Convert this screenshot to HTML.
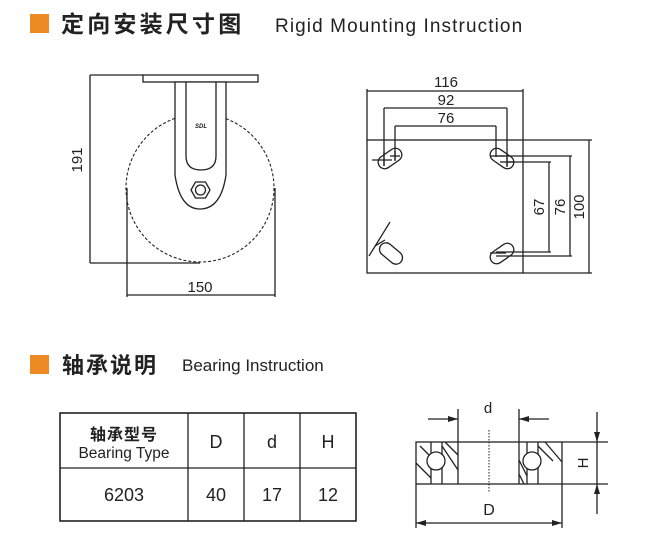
<!DOCTYPE html>
<html><head><meta charset="utf-8"><style>
html,body{margin:0;padding:0;background:#fff;}
svg{display:block}
text{font-family:"Liberation Sans","Noto Sans CJK SC",sans-serif;fill:#222}
</style></head><body>
<svg width="648" height="539" viewBox="0 0 648 539" xmlns="http://www.w3.org/2000/svg">
<defs>
<marker id="ar" viewBox="0 0 10 6" refX="10" refY="3" markerWidth="11" markerHeight="6" orient="auto" markerUnits="userSpaceOnUse"><path d="M0,0 L10,3 L0,6 z" fill="#222"/></marker>
</defs>
<!-- headers -->
<rect x="30" y="14" width="19" height="19" fill="#ee8a23"/>
<text x="61" y="32" font-size="23" letter-spacing="3.2" font-weight="bold">定向安装尺寸图</text>
<text x="275" y="32" font-size="19" letter-spacing="1.1">Rigid  Mounting  Instruction</text>
<rect x="30" y="355" width="19" height="19" fill="#ee8a23"/>
<text x="62" y="373" font-size="22" letter-spacing="2" font-weight="bold">轴承说明</text>
<text x="182" y="371" font-size="17">Bearing Instruction</text>

<g stroke="#222" stroke-width="1.3" fill="none">
<!-- caster side -->
<rect x="143" y="75" width="115" height="7"/>
<line x1="90" y1="75" x2="143" y2="75"/>
<line x1="90" y1="75" x2="90" y2="263"/>
<line x1="90" y1="263" x2="200" y2="263"/>
<circle cx="200" cy="188" r="74" stroke-dasharray="3,2" stroke-width="1.1"/>
<path d="M175,82 L175,175 Q180,209 200,209 Q221,209 226,175 L226,82 Z" fill="#fff"/>
<path d="M186,82 L186,156 Q186,170 201,170 Q216,170 216,156 L216,82"/>
<polygon points="191,190 195.5,182 205.5,182 210,190 205.5,198 195.5,198" fill="#fff"/>
<circle cx="200.5" cy="190" r="5"/>
<line x1="127" y1="188" x2="127" y2="297"/>
<line x1="275" y1="188" x2="275" y2="297"/>
<line x1="127" y1="295" x2="275" y2="295"/>
<!-- mounting plate -->
<rect x="367" y="140" width="156" height="133"/>
<line x1="367" y1="89" x2="367" y2="140"/>
<line x1="523" y1="89" x2="523" y2="140"/>
<line x1="367" y1="91" x2="523" y2="91"/>
<line x1="384" y1="108" x2="507" y2="108"/>
<line x1="384" y1="108" x2="384" y2="166"/>
<line x1="507" y1="108" x2="507" y2="166"/>
<line x1="395" y1="126" x2="496" y2="126"/>
<line x1="395" y1="126" x2="395" y2="160"/>
<line x1="496" y1="126" x2="496" y2="157"/>
<line x1="523" y1="140" x2="592" y2="140"/>
<line x1="523" y1="273" x2="592" y2="273"/>
<line x1="589" y1="140" x2="589" y2="273"/>
<line x1="496" y1="156" x2="572" y2="156"/>
<line x1="496" y1="256" x2="572" y2="256"/>
<line x1="570" y1="156" x2="570" y2="256"/>
<line x1="507" y1="162" x2="551" y2="162"/>
<line x1="496" y1="252" x2="551" y2="252"/>
<line x1="549" y1="162" x2="549" y2="252"/>
<rect x="377" y="152" width="26" height="13" rx="6.5" transform="rotate(-35 390 158.5)"/>
<rect x="489" y="152" width="26" height="13" rx="6.5" transform="rotate(35 502 158.5)"/>
<rect x="378" y="247" width="26" height="13" rx="6.5" transform="rotate(40 391 253.5)"/>
<rect x="489" y="247" width="26" height="13" rx="6.5" transform="rotate(-35 502 253.5)"/>
<line x1="372" y1="160" x2="392" y2="160"/><line x1="384" y1="152" x2="384" y2="166"/>
<line x1="390" y1="156" x2="400" y2="156"/><line x1="395" y1="151" x2="395" y2="161"/>
<line x1="491" y1="156" x2="505" y2="156"/>
<line x1="500" y1="162" x2="514" y2="162"/><line x1="507" y1="155" x2="507" y2="167"/>
<line x1="369" y1="256" x2="390" y2="222"/>
<line x1="375" y1="246" x2="385" y2="240"/>
<line x1="490" y1="253" x2="506" y2="253"/>
<!-- table -->
<rect x="60" y="413" width="296" height="108" stroke-width="1.6"/>
<line x1="60" y1="468" x2="356" y2="468"/>
<line x1="188" y1="413" x2="188" y2="521"/>
<line x1="244" y1="413" x2="244" y2="521"/>
<line x1="300" y1="413" x2="300" y2="521"/>
<!-- bearing -->
<rect x="416" y="442" width="146" height="42"/>
<line x1="458" y1="409" x2="458" y2="484"/>
<line x1="519" y1="409" x2="519" y2="484"/>
<line x1="416" y1="484" x2="416" y2="528"/>
<line x1="562" y1="484" x2="562" y2="528"/>
<line x1="428" y1="419" x2="458" y2="419" marker-end="url(#ar)"/>
<line x1="549" y1="419" x2="519" y2="419" marker-end="url(#ar)"/>
<line x1="489" y1="523" x2="416" y2="523" marker-end="url(#ar)"/>
<line x1="489" y1="523" x2="562" y2="523" marker-end="url(#ar)"/>
<line x1="562" y1="442" x2="608" y2="442"/>
<line x1="562" y1="484" x2="608" y2="484"/>
<line x1="597" y1="412" x2="597" y2="442" marker-end="url(#ar)"/>
<line x1="597" y1="514" x2="597" y2="484" marker-end="url(#ar)"/>
<line x1="597" y1="442" x2="597" y2="484"/>
<line x1="489" y1="430" x2="489" y2="492" stroke-dasharray="1.5,1.5" stroke-width="1"/>
<line x1="431" y1="442" x2="431" y2="484"/><line x1="442" y1="442" x2="442" y2="484"/>
<line x1="527" y1="442" x2="527" y2="484"/><line x1="538" y1="442" x2="538" y2="484"/>
<line x1="420" y1="446" x2="431" y2="457"/><line x1="416" y1="463" x2="431" y2="478"/>
<line x1="442" y1="446" x2="458" y2="470"/><line x1="445" y1="442" x2="458" y2="455"/>
<line x1="519" y1="460" x2="527" y2="476"/><line x1="519" y1="474" x2="524" y2="484"/>
<line x1="538" y1="446" x2="553" y2="461"/><line x1="545" y1="442" x2="562" y2="462"/>
<circle cx="436" cy="461" r="9" fill="#fff"/>
<circle cx="532" cy="461" r="9" fill="#fff"/>
</g>
<text x="195" y="128" font-size="6" font-style="italic" font-weight="bold">SDL</text>
<text x="82" y="160" font-size="15" text-anchor="middle" transform="rotate(-90 82 160)">191</text>
<text x="200" y="292" font-size="15" text-anchor="middle">150</text>
<text x="446" y="87" font-size="15" text-anchor="middle">116</text>
<text x="446" y="105" font-size="15" text-anchor="middle">92</text>
<text x="446" y="123" font-size="15" text-anchor="middle">76</text>
<text x="544" y="207" font-size="15" text-anchor="middle" transform="rotate(-90 544 207)">67</text>
<text x="565" y="207" font-size="15" text-anchor="middle" transform="rotate(-90 565 207)">76</text>
<text x="584" y="207" font-size="15" text-anchor="middle" transform="rotate(-90 584 207)">100</text>
<text x="124" y="440" font-size="16" text-anchor="middle" letter-spacing="1" font-weight="bold">轴承型号</text>
<text x="124" y="458" font-size="15.5" text-anchor="middle">Bearing Type</text>
<text x="216" y="448" font-size="18" text-anchor="middle">D</text>
<text x="272" y="448" font-size="18" text-anchor="middle">d</text>
<text x="328" y="448" font-size="18" text-anchor="middle">H</text>
<text x="124" y="501" font-size="18" text-anchor="middle">6203</text>
<text x="216" y="501" font-size="18" text-anchor="middle">40</text>
<text x="272" y="501" font-size="18" text-anchor="middle">17</text>
<text x="328" y="501" font-size="18" text-anchor="middle">12</text>
<text x="488" y="413" font-size="15" text-anchor="middle">d</text>
<text x="489" y="515" font-size="16" text-anchor="middle">D</text>
<text x="588" y="463" font-size="15" text-anchor="middle" transform="rotate(-90 588 463)">H</text>
</svg>
</body></html>
